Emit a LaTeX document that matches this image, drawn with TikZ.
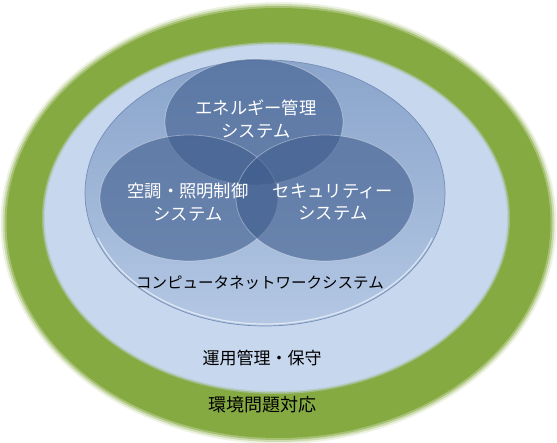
\documentclass[tikz,border=0pt]{standalone}
\usepackage{fontspec}
\newfontfamily\jp{Noto Sans CJK JP}
\usetikzlibrary{shapes.geometric}
\definecolor{envgreen}{RGB}{134,170,66}
\definecolor{opsblue}{RGB}{199,215,238}
\definecolor{nettop}{RGB}{138,164,203}
\definecolor{netbot}{RGB}{180,200,228}
\definecolor{netedge}{RGB}{118,142,182}
\definecolor{sysblue}{RGB}{62,92,140}
\tikzset{
  sysell/.style={ellipse, fill=sysblue, fill opacity=0.6, draw=white, draw opacity=0.35, line width=0.8pt, minimum width=178pt, minimum height=126pt},
  wlabel/.style={text=white, font=\jp\fontsize{17.3}{22.5}\selectfont, align=center, text opacity=1},
  blabel/.style={text=black, font=\jp\fontsize{17}{20}\selectfont}
}
\begin{document}
\begin{tikzpicture}[x=1pt,y=-1pt]
\useasboundingbox (0,0) rectangle (557,443);
% environment (green) with soft edge
\foreach \d/\o in {6/0.15,4/0.3,2/0.55,0/1}{
  \fill[envgreen, fill opacity=\o] (278.5,223) ellipse ({272+\d} and {215+\d});
}
\node[ellipse, minimum width=544pt, minimum height=430pt, inner sep=0pt] (env) at (278.5,223) {};
% operation (light blue) with soft edge
\foreach \d/\o in {3/0.4,1.5/0.7,0/1}{
  \fill[opsblue, fill opacity=\o] (276,218) ellipse ({231+\d} and {173+\d});
}
\node[ellipse, minimum width=462pt, minimum height=346pt, inner sep=0pt] (ops) at (276,218) {};
% network ellipse
\shade[top color=nettop, bottom color=netbot, draw=netedge, line width=0.7pt]
  (265,193) ellipse (180 and 133);
\draw[white, draw opacity=0.6, line width=1.2pt] (265,193) ++(20:178 and 131) arc[start angle=20, end angle=160, x radius=178, y radius=131];
\node[ellipse, minimum width=360pt, minimum height=266pt, inner sep=0pt] (net) at (265,193) {};
% three systems
\node[sysell] (energy) at (254,122) {};
\node[sysell] (hvac) at (189,198) {};
\node[sysell] (sec) at (325,198) {};
% labels
\node[wlabel] (tEnergy) at (256,119) {エネルギー管理\\システム};
\node[wlabel] (tHvac) at (188,202) {空調・照明制御\\システム};
\node[wlabel] (tSec) at (333,202) {セキュリティー\\システム};
\node[blabel, font=\jp\fontsize{15.5}{20}\selectfont] (tNet) at (260,283) {コンピュータネットワークシステム};
\node[blabel] (tOps) at (262,358) {運用管理・保守};
\node[blabel, font=\jp\fontsize{18}{20}\selectfont] (tEnv) at (262,405) {環境問題対応};
\end{tikzpicture}
\end{document}
